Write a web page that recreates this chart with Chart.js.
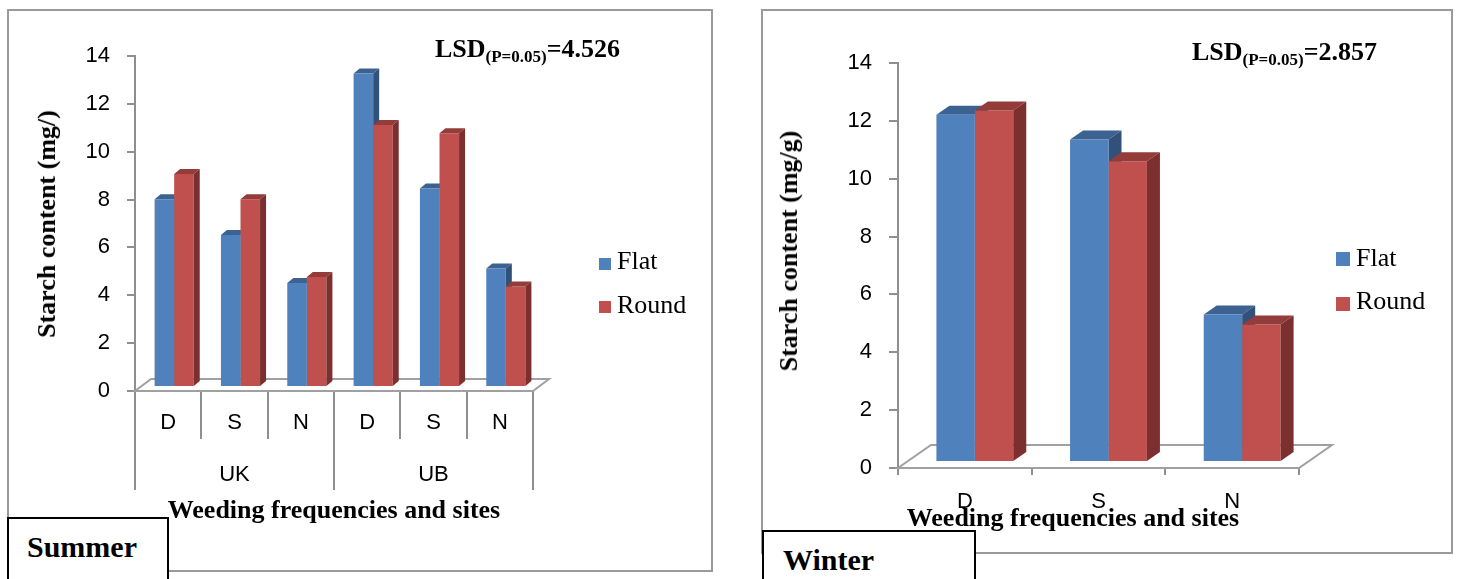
<!DOCTYPE html>
<html>
<head>
<meta charset="utf-8">
<title>Starch content - Summer / Winter</title>
<script src="https://cdn.jsdelivr.net/npm/chart.js@4.4.0/dist/chart.umd.min.js"></script>
<style>
  body { margin: 0; width: 1458px; height: 579px; background: #fff; position: relative; overflow: hidden; font-family: "Liberation Serif", "Times New Roman", serif; }
  .panel { position: absolute; border: 2px solid #9a9a9a; box-sizing: border-box; }
  canvas { position: absolute; top: 0; }
  .t { position: absolute; white-space: nowrap; line-height: 1; color: #000; }
  .b { font-weight: bold; }
  .t sub { font-size: 17px; vertical-align: -5px; line-height: 0; }
  .season { position: absolute; border: 2px solid #000; background: #fff; box-sizing: border-box; }
  .sq { position: absolute; }
  .ytitle { transform: translate(-50%, -50%) rotate(-90deg); }
</style>
</head>
<body>
<div class="panel" style="left:7px;top:9px;width:706px;height:563px"></div>
<div class="panel" style="left:761px;top:9px;width:692px;height:545px"></div>

<canvas id="summerChart" width="720" height="579" style="left:0"></canvas>
<canvas id="winterChart" width="718" height="579" style="left:740px"></canvas>

<!-- Summer texts -->
<div class="t b" style="left:435px;top:36px;font-size:26px">LSD<sub>(P=0.05)</sub>=4.526</div>
<div class="t b ytitle" style="left:47px;top:224px;font-size:26px">Starch content (mg/)</div>
<div class="t b" style="left:0;width:668px;text-align:center;top:497px;font-size:26px">Weeding frequencies and sites</div>
<div id="summerLegend"></div>
<div class="season" style="left:7px;top:517px;width:162px;height:70px"></div>
<div class="t b" style="left:27px;top:532px;font-size:30px">Summer</div>

<!-- Winter texts -->
<div class="t b" style="left:1192px;top:39px;font-size:26px">LSD<sub>(P=0.05)</sub>=2.857</div>
<div class="t b ytitle" style="left:789px;top:251px;font-size:26px">Starch content (mg/g)</div>
<div class="t b" style="left:873px;width:400px;text-align:center;top:505px;font-size:26px">Weeding frequencies and sites</div>
<div id="winterLegend"></div>
<div class="season" style="left:762px;top:530px;width:214px;height:60px"></div>
<div class="t b" style="left:783px;top:545px;font-size:30px">Winter</div>

<script>
// Data
const seriesNames = ['Flat', 'Round'];
const summerLabels = ['D', 'S', 'N', 'D', 'S', 'N'];
const summerSites = ['UK', 'UB'];
const summerFlat = [7.85, 6.35, 4.35, 13.1, 8.3, 4.95];
const summerRound = [8.9, 7.85, 4.6, 10.95, 10.6, 4.2];

const winterLabels = ['D', 'S', 'N'];
const winterFlat = [12.0, 11.15, 5.1];
const winterRound = [12.15, 10.4, 4.75];

const yMin = 0;
const yMax = 14;
const yStep = 2;

// Colours (front, top, side)
const frontColors = ['#4F81BD', '#C0504D'];
const topColors = ['#3C6291', '#943C39'];
const sideColors = ['#31507A', '#7B2F2E'];
const axisGray = '#8f8f8f';

Chart.defaults.font.family = '"Liberation Sans", Arial, sans-serif';
Chart.defaults.color = '#000';

// Top and side faces of each bar
const drawFaces = (chart, index, opts) => {
    const ctx = chart.ctx;
    const meta = chart.getDatasetMeta(index);
    const ds = chart.data.datasets[index];
    const dx = opts.depthX, dy = opts.depthY;
    meta.data.forEach(bar => {
        const { x, y, base, width } = bar.getProps(['x', 'y', 'base', 'width'], true);
        const l = x - width / 2, r = x + width / 2;
        ctx.fillStyle = ds.topColor;
        ctx.beginPath();
        ctx.moveTo(l, y);
        ctx.lineTo(l + dx, y - dy);
        ctx.lineTo(r + dx, y - dy);
        ctx.lineTo(r, y);
        ctx.closePath();
        ctx.fill();
        ctx.fillStyle = ds.sideColor;
        ctx.beginPath();
        ctx.moveTo(r, y);
        ctx.lineTo(r + dx, y - dy);
        ctx.lineTo(r + dx, base - dy);
        ctx.lineTo(r, base);
        ctx.closePath();
        ctx.fill();
    });
};

// 3D plugin: floor + faces
const bar3d = {
    id: 'bar3d',
    beforeDatasetsDraw(chart, args, opts) {
        const { ctx, chartArea: a } = chart;
        ctx.save();
        ctx.beginPath();
        ctx.moveTo(a.left, a.bottom);
        ctx.lineTo(a.left + opts.floorX, a.bottom - opts.floorY);
        ctx.lineTo(a.right + opts.floorX, a.bottom - opts.floorY);
        ctx.lineTo(a.right, a.bottom);
        ctx.closePath();
        ctx.fillStyle = '#fff';
        ctx.fill();
        ctx.strokeStyle = '#a0a0a0';
        ctx.lineWidth = 2;
        ctx.stroke();
        ctx.restore();

        ctx.save();
        ctx.translate(opts.shiftX, -opts.shiftY);
        drawFaces(chart, 0, opts);
    },
    afterDatasetsDraw(chart, args, opts) {
        drawFaces(chart, 1, opts);
        chart.ctx.restore();
    }
};

const makeDatasets = (flat, round) => [flat, round].map((values, i) => ({
    label: seriesNames[i],
    data: values,
    backgroundColor: frontColors[i],
    topColor: topColors[i],
    sideColor: sideColors[i],
    borderWidth: 0,
    clip: false
}));

const yScale = (width, tickLength) => ({
    min: yMin,
    max: yMax,
    ticks: { stepSize: yStep, padding: 17, font: { size: 22 } },
    grid: { drawOnChartArea: false, tickLength: tickLength, color: axisGray, lineWidth: 2 },
    border: { color: axisGray, width: 2 },
    afterFit: s => { s.width = width; }
});

const buildLegend = (id, left, tops, textTops, size) => {
    const el = document.getElementById(id);
    el.innerHTML = seriesNames.map((name, i) => `
        <div class="sq" style="left:${left}px;top:${tops[i]}px;width:${size}px;height:${size}px;background:${frontColors[i]}"></div>
        <div class="t" style="left:${left + size + 6}px;top:${textTops[i]}px;font-size:26px">${name}</div>
    `).join('');
};

// Summer
new Chart(document.getElementById('summerChart'), {
    type: 'bar',
    data: { labels: summerLabels, datasets: makeDatasets(summerFlat, summerRound) },
    options: {
        responsive: false,
        animation: false,
        devicePixelRatio: 1,
        categoryPercentage: 0.59,
        barPercentage: 1.0,
        layout: { padding: { left: 0, top: 56, right: 187, bottom: 89 } },
        plugins: {
            legend: { display: false },
            tooltip: { enabled: false },
            bar3d: { depthX: 6, depthY: 5, floorX: 16, floorY: 12, shiftX: 6, shiftY: 4 }
        },
        scales: {
            x: {
                ticks: { padding: -29, font: { size: 22 } },
                grid: { offset: true, drawOnChartArea: false, tickLength: 48, color: axisGray, lineWidth: 2 },
                border: { color: axisGray, width: 2 },
                afterFit: s => { s.height = 48; }
            },
            x2: {
                type: 'category',
                position: 'bottom',
                labels: summerSites,
                offset: true,
                weight: 1,
                ticks: { padding: -28, font: { size: 22 } },
                grid: { offset: true, drawOnChartArea: false, tickLength: 51, color: axisGray, lineWidth: 2 },
                border: { display: false },
                afterFit: s => { s.height = 51; }
            },
            y: yScale(135, 8)
        }
    },
    plugins: [bar3d]
});
buildLegend('summerLegend', 599, [258, 301], [248, 292], 12);

// Winter
new Chart(document.getElementById('winterChart'), {
    type: 'bar',
    data: { labels: winterLabels, datasets: makeDatasets(winterFlat, winterRound) },
    options: {
        responsive: false,
        animation: false,
        devicePixelRatio: 1,
        categoryPercentage: 0.575,
        barPercentage: 1.0,
        layout: { padding: { left: 0, top: 63, right: 159, bottom: 71 } },
        plugins: {
            legend: { display: false },
            tooltip: { enabled: false },
            bar3d: { depthX: 13, depthY: 9, floorX: 33, floorY: 23, shiftX: 10, shiftY: 6 }
        },
        scales: {
            x: {
                ticks: { padding: 14, font: { size: 22 } },
                grid: { offset: true, drawOnChartArea: false, tickLength: 7, color: axisGray, lineWidth: 2 },
                border: { color: axisGray, width: 2 },
                afterFit: s => { s.height = 40; }
            },
            y: yScale(158, 9)
        }
    },
    plugins: [bar3d]
});
buildLegend('winterLegend', 1336, [252, 297], [245, 288], 14);
</script>
</body>
</html>
